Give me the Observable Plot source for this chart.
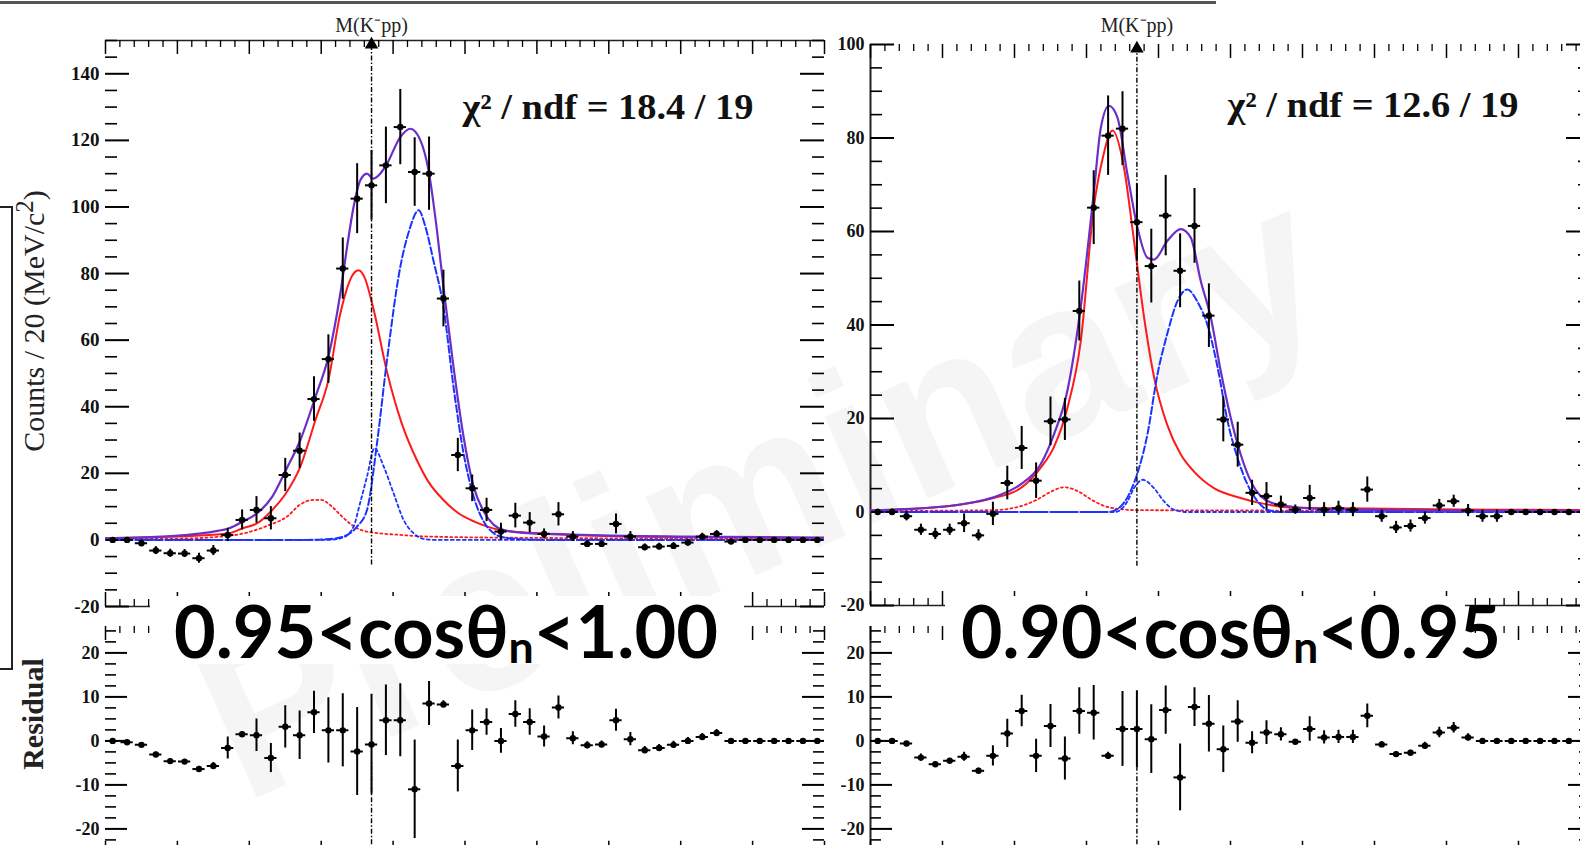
<!DOCTYPE html>
<html><head><meta charset="utf-8">
<script src="https://cdn.jsdelivr.net/npm/d3@7"></script>
<script src="https://cdn.jsdelivr.net/npm/@observablehq/plot@0.6"></script>
<style>
html,body{margin:0;padding:0;background:#fff;}
#root{position:relative;width:1580px;height:845px;overflow:hidden;background:#fff;}
#root > *{position:absolute;}
.wm{left:760px;top:490px;transform:translate(-50%,-50%) rotate(-24deg);font:bold 220px "Liberation Sans",sans-serif;color:#f5f5f5;white-space:nowrap;line-height:1;}
.ytitle{transform:translate(-50%,-50%) rotate(-90deg);white-space:nowrap;font-family:"Liberation Serif",serif;color:#222;}
.binbox{background:#fff;}
.binbox span{position:absolute;white-space:nowrap;font:bold 72px Lato,"Open Sans",sans-serif;line-height:1;color:#000;transform-origin:0 0;}
.binbox sub{font-size:.62em;vertical-align:-0.12em;line-height:0;}
</style></head>
<body><div id="root"></div>
<script>
// ---------------- data ----------------
const binMass = [2.01,2.03,2.05,2.07,2.09,2.11,2.13,2.15,2.17,2.19,2.21,2.23,2.25,2.27,2.29,2.31,2.33,2.35,2.37,2.39,
  2.41,2.43,2.45,2.47,2.49,2.51,2.53,2.55,2.57,2.59,2.61,2.63,2.65,2.67,2.69,2.71,2.73,2.75,2.77,2.79,
  2.81,2.83,2.85,2.87,2.89,2.91,2.93,2.95,2.97,2.99];
const MKPP = 2.370;
const thresholdLabel = "M(K⁻pp)";

const countsA = [0,0,-1,-3.2,-4.0,-4.1,-5.5,-3.2,1.5,6.0, 9.0,6.5,19.5,26.8,42.3,54.3,81.5,102.5,106.5,112.5,
  124,110.5,110,72.5,25.5,15.5,9.0,2.5,7.3,5.2, 1.8,7.7,1.0,-1.2,-1.2,4.8,1.0,-2.2,-2.0,-1.8, -0.8,1.0,1.8,-0.5,0,0,0,0,0,0];
const errA = [0.6,0.6,1,1.2,1.2,1.2,1.5,1.5,2,3, 4,3.5,5,5.3,6.7,7.3,9.2,10.5,10.5,11.5,
  11.3,10.3,11,8.5,5,4,3.5,2.5,3.7,3, 1.5,3.5,1.5,1,1,3,1.5,1,1,1, 1,1,1,0.8,0.5,0.5,0.5,0.5,0.5,0.5];
const countsB = [0,0,-0.9,-3.8,-4.7,-3.8,-2.4,-5.0,-0.4,6.2, 13.7,6.7,19.4,19.8,43,65.1,80.5,82,62,52.6,
  63.4,51.6,61.2,42,19.8,14.4,4.1,3.4,1.6,0.5, 3.0,0.5,0.8,0.5,4.8,-0.9,-3.3,-3.0,-1.3,1.4, 2.3,0.3,-0.9,-0.9,0,0,0,0,0,0];
const errB = [0.6,0.6,1,1.2,1.2,1.2,2,1.2,2.5,3.6, 4.6,3.8,5.2,4.5,6.4,7.9,8.5,7.9,8.2,7.9,
  8.6,7.9,8,6.8,4.8,4.8,2.7,2.9,1.8,1, 2.7,1.5,1.5,1.5,2.7,1.3,1.3,1.3,1.3,1.3, 1.3,1.3,1.3,1.3,0.5,0.5,0.5,0.5,0.5,0.5];

const residA = [0,-0.3,-0.9,-3.1,-4.6,-4.7,-6.4,-5.7,-1.6,1.5, 1.3,-3.9,3.2,1.3,6.5,2.4,2.4,-2.4,-0.8,4.7,
  4.7,-11,8.5,8.3,-5.7,2.4,4.3,0,6.1,4.3, 1.0,7.6,0.6,-1.0,-0.8,4.7,0.4,-2.1,-1.6,-0.9, 0,0.9,1.8,0,0,0,0,0,0,0];
const residErrA = [0.4,0.4,0.4,0.5,0.5,0.5,0.6,0.8,2.5,0.6, 3.7,3.3,4.8,5.5,4.8,7.4,8.3,10,11.4,8,
  8.3,11.2,5,0.8,5.9,4.6,3,2.8,3,3, 2.4,2.6,1.5,0.8,0.8,2.5,1.5,0.8,0.8,0.8, 0.8,0.8,0.8,0.3,0.3,0.3,0.3,0.3,0.3,0.3];
const residB = [0,0,-0.6,-3.8,-5.3,-4.5,-3.6,-6.8,-3.4,1.7, 6.8,-3.4,3.4,-4.0,6.8,6.4,-3.4,2.7,2.7,0.4,
  7.0,-8.3,7.7,3.9,-1.9,4.4,-0.4,1.9,1.5,-0.2, 2.7,0.8,0.9,0.9,5.7,-0.8,-3.0,-2.7,-1.1,1.9, 3.0,0.8,0,0,0,0,0,0,0,0];
const residErrB = [0.4,0.4,0.4,0.8,0.5,0.5,1.0,0.6,2.3,3.2, 3.6,3.8,4.9,4.9,5.3,6.2,0.8,8.5,8.7,7.8,
  5.5,7.6,4.4,6.4,5.3,4.7,2.5,2.7,1.5,0.5, 2.8,1.5,1.5,1.5,2.7,0.6,0.6,0.6,0.8,1.2, 1.2,0.8,0.3,0.3,0.3,0.3,0.3,0.3,0.3,0.3];

// fit curves, [mass GeV/c2, counts]
const totalFitA = [[2.0,0.5],[2.077,1.0],[2.15,2.5],[2.172,3.5],[2.191,5.5],[2.211,8],[2.232,13],[2.251,21],[2.271,30],[2.292,43],[2.31,55],[2.3266,74],[2.336,88],[2.345,100],[2.3544,108],[2.3637,110],[2.372,108.5],[2.382,110],[2.3915,113],[2.410,121],[2.424,123.5],[2.438,120],[2.4493,111],[2.461,93],[2.470,76],[2.484,52],[2.498,31],[2.512,16],[2.526,8.5],[2.540,4.5],[2.553,3],[2.577,2.2],[2.65,1.6],[2.8,1.0],[3.0,0.7]];
const lowPeakA = [[2.0,0.5],[2.06,0.8],[2.12,1.2],[2.172,2],[2.191,3.5],[2.211,5],[2.232,9],[2.251,14],[2.271,22],[2.292,36],[2.31,48],[2.3266,68],[2.345,80],[2.352,81],[2.36,79],[2.372,70],[2.3915,50.5],[2.412,35],[2.433,24],[2.449,17.5],[2.470,12],[2.491,8],[2.513,5.5],[2.531,4],[2.549,3],[2.60,2],[2.70,1.2],[2.85,0.8],[3.0,0.5]];
const lowBumpA = [[2.0,0.3],[2.1,0.4],[2.15,0.8],[2.193,2],[2.228,4.5],[2.2525,7],[2.27,10.5],[2.289,12],[2.30,12],[2.315,10],[2.3266,7.5],[2.3498,3.5],[2.3637,2.5],[2.41,1.5],[2.45,1.0],[2.6,0.6],[3.0,0.3]];
const highPeakA = [[2.0,0],[2.28,0],[2.313,0.3],[2.331,1],[2.3498,4],[2.3637,9],[2.3776,29],[2.3915,54],[2.410,82],[2.4225,93],[2.4355,99],[2.445,94],[2.456,84],[2.470,70],[2.484,46],[2.498,26],[2.512,13],[2.526,5.5],[2.540,2],[2.553,0.8],[2.577,0.2],[2.62,0],[3.0,0]];
const thrPeakA = [[2.0,0],[2.31,0],[2.331,0.8],[2.345,4],[2.354,11],[2.3637,19],[2.374,27.5],[2.387,22],[2.4007,14],[2.4146,6],[2.4285,2],[2.4424,0.3],[2.46,0],[3.0,0]];

const totalFitB = [[2.0,0.3],[2.032,0.5],[2.125,1.6],[2.1807,3.7],[2.2085,5.9],[2.2363,10.2],[2.2548,16.6],[2.2734,25.9],[2.2919,43.7],[2.3104,68.7],[2.3197,82],[2.3312,86.9],[2.3429,84.4],[2.3568,72.3],[2.3707,60.9],[2.3846,54.4],[2.3937,54],[2.4124,58],[2.4309,60.5],[2.4448,58.7],[2.4587,49.4],[2.4726,41.6],[2.4865,30.1],[2.5004,20.1],[2.5142,12.3],[2.5281,6.6],[2.542,3.4],[2.5653,1.6],[2.6348,0.6],[2.8,0.3],[3.0,0.2]];
const lowPeakB = [[2.0,0.4],[2.032,0.5],[2.125,1.6],[2.171,3],[2.2085,5.1],[2.236,9.4],[2.255,14],[2.273,22],[2.292,36.5],[2.310,65],[2.323,76],[2.336,81.6],[2.352,73.7],[2.366,58],[2.380,41.6],[2.394,28.7],[2.412,18.7],[2.431,12.3],[2.449,8.7],[2.477,5.1],[2.514,3],[2.542,1.9],[2.588,0.9],[2.876,0.5],[3.0,0.4]];
const lowBumpB = [[2.0,0.2],[2.17,0.4],[2.2,0.9],[2.232,2.7],[2.25,4.3],[2.269,5.3],[2.29,4.3],[2.306,2.7],[2.334,0.9],[2.37,0.4],[2.6,0.3],[3.0,0.2]];
const highPeakB = [[2.0,0],[2.33,0],[2.3475,1.2],[2.361,4.4],[2.373,9.4],[2.3846,16.6],[2.3985,29.4],[2.412,38],[2.426,45],[2.440,47.6],[2.454,45],[2.468,40],[2.482,31],[2.496,19.4],[2.5097,11.6],[2.5236,5.9],[2.5375,2.3],[2.551,0.5],[2.57,0],[3.0,0]];
const thrPeakB = [[2.0,0],[2.34,0],[2.3475,0.5],[2.357,2.3],[2.366,5.1],[2.378,6.9],[2.3937,5.1],[2.4076,2.3],[2.4215,0.5],[2.44,0],[3.0,0]];

const yLabelsA = [-20,0,20,40,60,80,100,120,140];
const yLabelsB = [-20,0,20,40,60,80,100];
const residLabels = [-20,-10,0,10,20];
const xMajorTicks = [2.0,2.1,2.2,2.3,2.4,2.5,2.6,2.7,2.8,2.9,3.0];
const chiTexts = ["χ² / ndf = 18.4 / 19", "χ² / ndf = 12.6 / 19"];
const binLabels = [["0.95","1.00"],["0.90","0.95"]];
const yTitleMain = "Counts / 20 (MeV/c<sup>2</sup>)";
const yTitleResid = "Residual";
const watermark = "Preliminary";

// ---------------- build ----------------
const root = document.getElementById("root");
const xMinorTicks = d3.range(51).filter(i => i % 5 !== 0).map(i => 2 + i * 0.02);
const serif = "Liberation Serif";
const styles = {
  total: {stroke: "#6b2fc7", strokeWidth: 2.2},
  lowPeak: {stroke: "#ff1a1a", strokeWidth: 2},
  lowBump: {stroke: "#ff1a1a", strokeWidth: 1.8, strokeDasharray: "2,3"},
  highPeak: {stroke: "#1a33ff", strokeWidth: 2, strokeDasharray: "7,3"},
  thrPeak: {stroke: "#1a33ff", strokeWidth: 1.8, strokeDasharray: "3,3"}
};
const dashDot = "5,2,1.5,2";

const wm = document.createElement("div");
wm.className = "wm"; wm.textContent = watermark; root.appendChild(wm);

function ticksMarks(fw, fh, yMajor, yMinor, yLong, yShort, xTop, xBottom, xLong, xShort) {
  const m = [];
  m.push(Plot.tickY(yMajor, {y: d => d, insetRight: fw - yLong, strokeWidth: 2}));
  m.push(Plot.tickY(yMinor, {y: d => d, insetRight: fw - yShort, strokeWidth: 1.6}));
  m.push(Plot.tickY(yMajor, {y: d => d, insetLeft: fw - yLong, strokeWidth: 2}));
  m.push(Plot.tickY(yMinor, {y: d => d, insetLeft: fw - yShort, strokeWidth: 1.6}));
  if (xTop) {
    m.push(Plot.tickX(xMajorTicks, {x: d => d, insetBottom: fh - xLong, strokeWidth: 1.5}));
    m.push(Plot.tickX(xMinorTicks, {x: d => d, insetBottom: fh - xShort, strokeWidth: 1.3}));
  }
  if (xBottom) {
    m.push(Plot.tickX(xMajorTicks, {x: d => d, insetTop: fh - xLong, strokeWidth: 1.5}));
    m.push(Plot.tickX(xMinorTicks, {x: d => d, insetTop: fh - xShort, strokeWidth: 1.3}));
  }
  return m;
}

function pointMarks(pts, hw) {
  return [
    Plot.ruleX(pts, {x: "m", y1: d => d.v - d.e, y2: d => d.v + d.e, stroke: "#000", strokeWidth: 2, clip: true}),
    Plot.ruleY(pts, {y: "v", x1: d => d.m - hw, x2: d => d.m + hw, stroke: "#000", strokeWidth: 2, clip: true}),
    Plot.dot(pts, {x: "m", y: "v", r: 3.2, fill: "#000", stroke: null, clip: true})
  ];
}

function place(svg, left, top) {
  svg.style.position = "absolute";
  svg.style.left = left + "px";
  svg.style.top = top + "px";
  root.appendChild(svg);
}

const panels = [
  {counts: countsA, errs: errA, resid: residA, residErr: residErrA,
   fits: {lowBump: lowBumpA, thrPeak: thrPeakA, lowPeak: lowPeakA, highPeak: highPeakA, total: totalFitA},
   yDomain: [-20, 150], yLabels: yLabelsA, chi: chiTexts[0], bin: binLabels[0],
   left: 0, w: 845, mL: 105, mR: 21, mT: 40, mB: 14, threshLow: -7.5, topLine: true, leftLine: false,
   chiDy: 67, thrDy: -15, labelFont: 19,
   box: {left: 150, width: 594, textLeft: 24, textWidth: 544}},
  {counts: countsB, errs: errB, resid: residB, residErr: residErrB,
   fits: {lowBump: lowBumpB, thrPeak: thrPeakB, lowPeak: lowPeakB, highPeak: highPeakB, total: totalFitB},
   yDomain: [-20, 100], yLabels: yLabelsB, chi: chiTexts[1], bin: binLabels[1],
   left: 820, w: 785, mL: 50, mR: 15, mT: 44, mB: 15, threshLow: -11.6, topLine: false, leftLine: true,
   chiDy: 61, thrDy: -19, labelFont: 18,
   box: {left: 945, width: 520, textLeft: 16, textWidth: 540}}
];

for (const p of panels) {
  // ---- main plot ----
  const H = 620;
  const fw = p.w - p.mL - p.mR, fh = H - p.mT - p.mB;
  const pts = binMass.map((m, i) => ({m, v: p.counts[i], e: p.errs[i]}));
  const yMinor = d3.range(p.yDomain[0], p.yDomain[1] + 1, 5).filter(v => v % 20 !== 0);
  const marks = [];
  if (p.topLine) marks.push(Plot.ruleY([p.yDomain[1]], {stroke: "#222", strokeWidth: 1.5}));
  marks.push(Plot.ruleY([p.yDomain[0]], {stroke: "#222", strokeWidth: 1.5}));
  if (p.leftLine) marks.push(Plot.ruleX([2.0], {stroke: "#222", strokeWidth: 2}));
  marks.push(...ticksMarks(fw, fh, p.yLabels, yMinor, 24, 12, true, true, 14, 7));
  marks.push(Plot.axisY(p.yLabels, {tickSize: 0, tickPadding: 6, label: null, tickFormat: d => String(d),
    fontSize: p.labelFont, fontWeight: "bold", fontFamily: serif, fill: "#111"}));
  for (const key of ["lowBump", "thrPeak", "lowPeak", "highPeak", "total"]) {
    marks.push(Plot.line(p.fits[key], {x: d => d[0], y: d => d[1], curve: "monotone-x", clip: true, ...styles[key]}));
  }
  marks.push(Plot.ruleX([MKPP], {y1: p.threshLow, y2: p.yDomain[1], stroke: "#000", strokeWidth: 1.4, strokeDasharray: dashDot}));
  marks.push(...pointMarks(pts, 0.0085));
  marks.push(Plot.dot([MKPP], {x: d => d, frameAnchor: "top", symbol: "triangle", r: 5, fill: "#000", stroke: null, dy: 4}));
  marks.push(Plot.text([{m: MKPP, t: thresholdLabel}], {x: "m", text: "t", frameAnchor: "top", dy: p.thrDy,
    fontSize: 20, fontFamily: serif, fill: "#222", lineAnchor: "middle"}));
  marks.push(Plot.text([p.chi], {frameAnchor: "top-left", dx: 357, dy: p.chiDy, textAnchor: "start", lineAnchor: "middle",
    fontSize: 36, fontWeight: "bold", fontFamily: serif, fill: "#111"}));
  const svg = Plot.plot({
    width: p.w, height: H, marginLeft: p.mL, marginRight: p.mR, marginTop: p.mT, marginBottom: p.mB,
    x: {domain: [2.0, 3.0], axis: null},
    y: {domain: p.yDomain},
    style: {background: "transparent", overflow: "visible", fontFamily: serif},
    marks
  });
  svg.querySelectorAll("text").forEach(t => {
    if (t.textContent.startsWith("χ")) { t.setAttribute("textLength", 291); t.setAttribute("lengthAdjust", "spacingAndGlyphs"); }
  });
  place(svg, p.left, 0);

  // ---- residual plot ----
  const RH = 260, rmT = 26, rmB = 5.2;
  const rfh = RH - rmT - rmB;
  const rpts = binMass.map((m, i) => ({m, v: p.resid[i], e: p.residErr[i]}));
  const rMinor = d3.range(-25, 26, 2.5).filter(v => v % 10 !== 0);
  const rmarks = [];
  if (p.leftLine) rmarks.push(Plot.ruleX([2.0], {stroke: "#222", strokeWidth: 2}));
  rmarks.push(...ticksMarks(fw, rfh, residLabels, rMinor, 22, 11, true, true, 14, 7));
  rmarks.push(Plot.axisY(residLabels, {tickSize: 0, tickPadding: 6, label: null, tickFormat: d => String(d),
    fontSize: 18, fontWeight: "bold", fontFamily: serif, fill: "#111"}));
  rmarks.push(Plot.ruleX([MKPP], {y1: -26, y2: -5, stroke: "#000", strokeWidth: 1.4, strokeDasharray: dashDot}));
  rmarks.push(...pointMarks(rpts, 0.0085));
  const rsvg = Plot.plot({
    width: p.w, height: RH, marginLeft: p.mL, marginRight: p.mR, marginTop: rmT, marginBottom: rmB,
    x: {domain: [2.0, 3.0], axis: null},
    y: {domain: [-26, 26]},
    style: {background: "transparent", overflow: "visible", fontFamily: serif},
    marks: rmarks
  });
  place(rsvg, p.left, 600);

  // ---- bin label with white box ----
  const box = document.createElement("div");
  box.className = "binbox";
  Object.assign(box.style, {left: p.box.left + "px", top: "596px", width: p.box.width + "px", height: "68px"});
  const span = document.createElement("span");
  span.innerHTML = `${p.bin[0]}&lt;cosθ<sub>n</sub>&lt;${p.bin[1]}`;
  span.style.left = p.box.textLeft + "px";
  span.style.top = "-2px";
  box.appendChild(span);
  root.appendChild(box);
  const fit = () => { const w = span.offsetWidth; if (w > 0) span.style.transform = `scaleX(${p.box.textWidth / w})`; };
  fit();
  if (document.fonts && document.fonts.ready) document.fonts.ready.then(fit);
}

// axis titles
const t1 = document.createElement("div");
t1.className = "ytitle"; t1.innerHTML = yTitleMain;
Object.assign(t1.style, {left: "31px", top: "321px", fontSize: "30px"});
root.appendChild(t1);
const t2 = document.createElement("div");
t2.className = "ytitle"; t2.textContent = yTitleResid;
Object.assign(t2.style, {left: "33px", top: "714px", fontSize: "30px", fontWeight: "bold"});
root.appendChild(t2);

// decorative frame pieces
const topLine = document.createElement("div");
Object.assign(topLine.style, {left: "0px", top: "1px", width: "1216px", height: "2.5px", background: "#555"});
root.appendChild(topLine);
const bracket = document.createElement("div");
Object.assign(bracket.style, {left: "0px", top: "206px", width: "11px", height: "460px", border: "2px solid #222", borderLeft: "none"});
root.appendChild(bracket);
</script></body></html>
